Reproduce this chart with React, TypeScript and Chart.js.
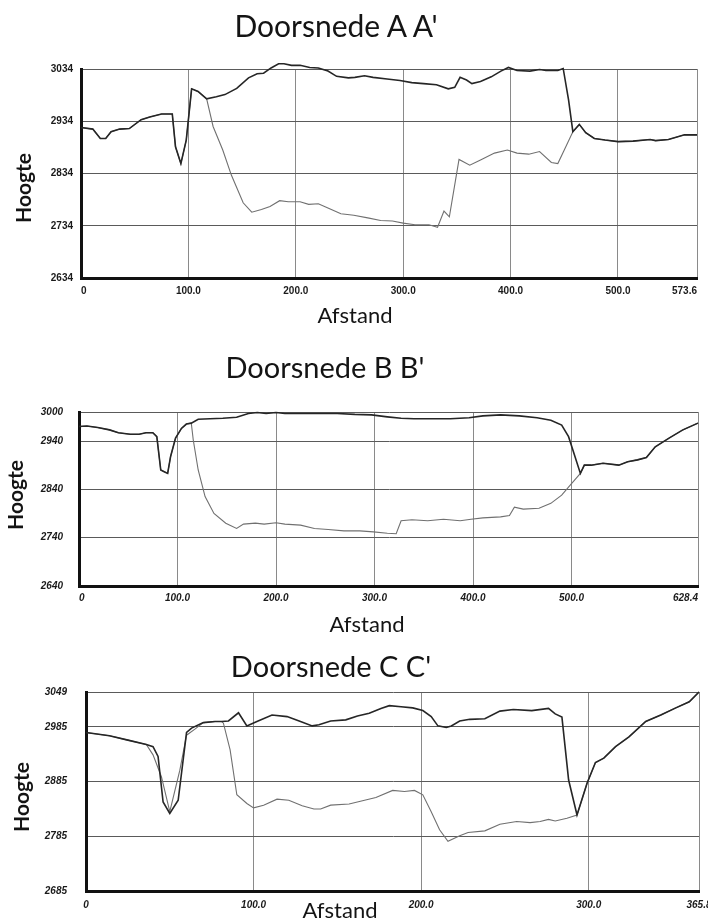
import React, { useEffect, useRef } from "react";
import { Chart, registerables } from "chart.js";

Chart.register(...registerables);

// ---------- Doorsnede A A' ----------
const aTitle = "Doorsnede A A'";
const aXTicks = [0, 100, 200, 300, 400, 500, 573.6];
const aYTicks = [2634, 2734, 2834, 2934, 3034];
const aLeftX = [0, 11, 18, 23, 28, 36, 45, 56, 64, 75, 85, 88, 93, 98, 103, 109, 117];
const aLeftY = [2922, 2919, 2901, 2901, 2914, 2919, 2920, 2937, 2942, 2948, 2948, 2885, 2853, 2898, 2996, 2991, 2977];
const aTopX = [126, 134, 145, 156, 164, 170, 177, 184, 189, 196, 204, 213, 221, 230, 238, 249, 255, 264, 272, 285, 297, 308, 319, 331, 342, 348, 353, 359, 364, 372, 382, 391, 398, 406, 418, 427, 433, 444, 449, 454];
const aTopY = [2981, 2985, 2997, 3017, 3025, 3026, 3036, 3044, 3044, 3041, 3041, 3037, 3036, 3030, 3020, 3017, 3018, 3021, 3018, 3015, 3012, 3008, 3006, 3004, 2996, 2999, 3018, 3013, 3006, 3010, 3019, 3030, 3037, 3031, 3030, 3033, 3031, 3031, 3035, 2975];
const aBottomX = [123, 132, 140, 151, 159, 168, 176, 185, 193, 204, 212, 221, 231, 242, 254, 267, 279, 290, 300, 311, 324, 332, 338, 343, 352, 362, 372, 385, 397, 406, 417, 427, 438, 444, 450];
const aBottomY = [2924, 2879, 2831, 2778, 2760, 2765, 2771, 2782, 2780, 2780, 2775, 2776, 2767, 2757, 2754, 2749, 2744, 2743, 2739, 2736, 2736, 2731, 2762, 2751, 2861, 2850, 2860, 2873, 2879, 2873, 2871, 2876, 2855, 2853, 2879];
const aRightX = [458, 464, 470, 478, 488, 500, 514, 530, 535, 547, 562, 573.6];
const aRightY = [2914, 2928, 2912, 2901, 2898, 2895, 2896, 2899, 2897, 2899, 2908, 2908];

// ---------- Doorsnede B B' ----------
const bTitle = "Doorsnede B B'";
const bXTicks = [0, 100, 200, 300, 400, 500, 628.4];
const bYTicks = [2640, 2740, 2840, 2940, 3000];
const bLeftX = [0, 8, 19, 31, 40, 52, 61, 68, 75, 79, 83, 86, 90, 93, 98, 104, 109, 114];
const bLeftY = [2970, 2971, 2968, 2963, 2957, 2954, 2954, 2957, 2957, 2949, 2880, 2877, 2873, 2908, 2946, 2966, 2975, 2977];
const bTopX = [121, 133, 146, 160, 172, 181, 190, 200, 209, 225, 243, 262, 280, 297, 313, 327, 340, 359, 377, 396, 410, 428, 447, 465, 479, 490, 497, 503, 509];
const bTopY = [2985, 2986, 2987, 2989, 2997, 2999, 2997, 2999, 2997, 2997, 2997, 2997, 2995, 2994, 2990, 2987, 2986, 2986, 2986, 2988, 2992, 2994, 2992, 2988, 2983, 2973, 2949, 2911, 2873];
const bBottomX = [116, 121, 128, 137, 149, 160, 167, 179, 188, 200, 209, 225, 239, 253, 269, 285, 299, 313, 322, 327, 338, 354, 370, 387, 398, 410, 428, 437, 442, 451, 467, 479, 490, 500, 509];
const bBottomY = [2942, 2880, 2825, 2790, 2770, 2759, 2768, 2770, 2768, 2771, 2768, 2766, 2759, 2757, 2754, 2754, 2752, 2749, 2748, 2775, 2777, 2775, 2778, 2775, 2778, 2781, 2783, 2786, 2803, 2799, 2801, 2811, 2828, 2852, 2873];
const bRightX = [513, 520, 532, 548, 557, 567, 576, 585, 599, 613, 628.4];
const bRightY = [2890, 2890, 2894, 2890, 2897, 2901, 2906, 2928, 2946, 2963, 2977];

// ---------- Doorsnede C C' ----------
const cTitle = "Doorsnede C C'";
const cXTicks = [0, 100, 200, 300, 365.8];
const cYTicks = [2685, 2785, 2885, 2985, 3049];
const cLeftX = [0, 14, 25, 36];
const cLeftY = [2975, 2969, 2961, 2953];
const cDipDarkX = [40, 43, 46, 50, 55, 60, 63];
const cDipDarkY = [2949, 2931, 2848, 2827, 2851, 2975, 2983];
const cDipGrayX = [40, 45, 50, 56, 60, 65];
const cDipGrayY = [2934, 2894, 2830, 2906, 2970, 2981];
const cJoinX = [70, 77, 81];
const cJoinY = [2993, 2995, 2995];
const cTopX = [85, 91, 96, 102, 111, 120, 128, 135, 139, 146, 155, 162, 169, 176, 181, 188, 195, 201, 206, 210, 215, 218, 223, 229, 238, 247, 255, 266, 276, 280, 284, 288];
const cTopY = [2996, 3011, 2987, 2995, 3007, 3004, 2995, 2987, 2989, 2996, 2998, 3005, 3010, 3019, 3024, 3022, 3020, 3015, 3004, 2987, 2984, 2987, 2996, 2999, 3000, 3014, 3017, 3015, 3019, 3009, 3003, 2888];
const cBottomX = [82, 86, 90, 96, 100, 106, 114, 121, 129, 136, 140, 146, 157, 165, 173, 183, 190, 196, 201, 206, 211, 216, 223, 228, 238, 247, 257, 265, 271, 276, 280, 287];
const cBottomY = [2992, 2943, 2861, 2845, 2837, 2842, 2853, 2851, 2841, 2835, 2835, 2842, 2844, 2850, 2856, 2869, 2867, 2869, 2861, 2830, 2797, 2776, 2786, 2792, 2795, 2807, 2812, 2810, 2812, 2816, 2813, 2818];
const cRightX = [293, 299, 304, 309, 316, 324, 334, 343, 352, 360, 365.8];
const cRightY = [2824, 2882, 2920, 2928, 2949, 2967, 2995, 3007, 3020, 3031, 3049];

const xAxisTitle = "Afstand";
const yAxisTitle = "Hoogte";

type Pt = { x: number; y: number };
const zip = (xs: number[], ys: number[]): Pt[] => xs.map((x, i) => ({ x, y: ys[i] }));

const W = 708;

interface ProfileProps {
  top: number;
  height: number;
  dark: Pt[];
  gray: Pt[];
  xTicks: number[];
  yTicks: number[];
  plotLeft: number;
  plotRight: number;
  plotTop: number;
  plotBottom: number;
  yPad: number;
  xPad: number;
  italic: boolean;
  inner: boolean;
}

function Profile(p: ProfileProps) {
  const ref = useRef<HTMLCanvasElement | null>(null);
  useEffect(() => {
    if (!ref.current) return;
    const tickFont: any = {
      family: "'Liberation Sans', Arial, sans-serif",
      size: 10,
      weight: "bold",
      style: p.italic ? "italic" : "normal",
    };
    const chart = new Chart(ref.current, {
      type: "line",
      data: {
        datasets: [
          { data: p.dark, borderColor: "#262626", borderWidth: 1.6, pointRadius: 0, fill: false, tension: 0, clip: false } as any,
          { data: p.gray, borderColor: "#707070", borderWidth: 1.1, pointRadius: 0, fill: false, tension: 0, clip: false } as any,
        ],
      },
      options: {
        responsive: false,
        animation: false,
        events: [],
        layout: { padding: { top: p.plotTop, right: W - p.plotRight, bottom: 0, left: 0 } },
        plugins: { legend: { display: false }, tooltip: { enabled: false }, title: { display: false } },
        scales: {
          x: {
            type: "linear",
            min: p.xTicks[0],
            max: p.xTicks[p.xTicks.length - 1],
            afterBuildTicks: (s: any) => {
              s.ticks = p.xTicks.map((v) => ({ value: v }));
            },
            afterFit: (s: any) => {
              s.height = p.height - p.plotBottom;
              s.paddingLeft = 0;
              s.paddingRight = 0;
            },
            ticks: {
              autoSkip: false,
              maxRotation: 0,
              minRotation: 0,
              padding: p.xPad,
              color: "#1a1a1a",
              font: tickFont,
              align: p.inner ? "inner" : "center",
              callback: (v: any) => (Number(v) === 0 ? "0" : Number(v).toFixed(1)),
            },
            grid: { color: "#8a8a8a", lineWidth: 1, drawTicks: false },
            border: { display: true, color: "#111", width: 3 },
          } as any,
          y: {
            type: "linear",
            min: p.yTicks[0],
            max: p.yTicks[p.yTicks.length - 1],
            afterBuildTicks: (s: any) => {
              s.ticks = p.yTicks.map((v) => ({ value: v }));
            },
            afterFit: (s: any) => {
              s.width = p.plotLeft;
              s.paddingTop = 0;
              s.paddingBottom = 0;
            },
            ticks: {
              autoSkip: false,
              padding: p.yPad,
              color: "#1a1a1a",
              font: tickFont,
              callback: (v: any) => String(v),
            },
            grid: { color: "#5a5a5a", lineWidth: 1, drawTicks: false },
            border: { display: true, color: "#111", width: 3 },
          } as any,
        },
      },
    });
    return () => chart.destroy();
  }, []);
  return (
    <div style={{ position: "absolute", left: 0, top: p.top, width: W, height: p.height }}>
      <canvas ref={ref} width={W} height={p.height} style={{ display: "block" }} />
    </div>
  );
}

const textBase: React.CSSProperties = {
  position: "absolute",
  fontFamily: "Lato, 'Open Sans', sans-serif",
  color: "#141414",
  whiteSpace: "nowrap",
};

function Title({ cx, top, size, text }: { cx: number; top: number; size: number; text: string }) {
  return (
    <div style={{ ...textBase, left: cx, top, fontSize: size, lineHeight: `${size}px`, transform: "translateX(-50%)" }}>{text}</div>
  );
}

function XTitle({ cx, top, text }: { cx: number; top: number; text: string }) {
  return (
    <div style={{ ...textBase, left: cx, top, fontSize: 22, lineHeight: "22px", transform: "translateX(-50%)" }}>{text}</div>
  );
}

function YTitle({ cx, cy, text }: { cx: number; cy: number; text: string }) {
  return (
    <div
      style={{
        ...textBase,
        left: cx,
        top: cy,
        fontSize: 21,
        fontWeight: 700,
        lineHeight: "21px",
        transform: "translate(-50%, -50%) rotate(-90deg)",
      }}
    >
      {text}
    </div>
  );
}

export default function App() {
  const aDark = [...zip(aLeftX, aLeftY), ...zip(aTopX, aTopY), ...zip(aRightX, aRightY)];
  const aGray = [...zip(aLeftX, aLeftY), ...zip(aBottomX, aBottomY), ...zip(aRightX, aRightY)];
  const bDark = [...zip(bLeftX, bLeftY), ...zip(bTopX, bTopY), ...zip(bRightX, bRightY)];
  const bGray = [...zip(bLeftX, bLeftY), ...zip(bBottomX, bBottomY), ...zip(bRightX, bRightY)];
  const cDark = [...zip(cLeftX, cLeftY), ...zip(cDipDarkX, cDipDarkY), ...zip(cJoinX, cJoinY), ...zip(cTopX, cTopY), ...zip(cRightX, cRightY)];
  const cGray = [...zip(cLeftX, cLeftY), ...zip(cDipGrayX, cDipGrayY), ...zip(cJoinX, cJoinY), ...zip(cBottomX, cBottomY), ...zip(cRightX, cRightY)];

  return (
    <div style={{ position: "fixed", left: 0, top: 0, width: W, height: 921, background: "#fff", overflow: "hidden" }}>
      <Profile top={0} height={330} dark={aDark} gray={aGray} xTicks={aXTicks} yTicks={aYTicks}
        plotLeft={81} plotRight={697} plotTop={69} plotBottom={278} yPad={8} xPad={7} italic={false} inner={true} />
      <Profile top={330} height={310} dark={bDark} gray={bGray} xTicks={bXTicks} yTicks={bYTicks}
        plotLeft={79} plotRight={698} plotTop={82} plotBottom={256} yPad={16} xPad={6} italic={true} inner={true} />
      <Profile top={640} height={281} dark={cDark} gray={cGray} xTicks={cXTicks} yTicks={cYTicks}
        plotLeft={86} plotRight={699} plotTop={52} plotBottom={251} yPad={19} xPad={8} italic={true} inner={false} />

      <Title cx={336} top={10} size={30} text={aTitle} />
      <Title cx={325} top={352} size={29} text={bTitle} />
      <Title cx={331} top={651} size={29} text={cTitle} />

      <XTitle cx={355} top={304} text={xAxisTitle} />
      <XTitle cx={367} top={613} text={xAxisTitle} />
      <XTitle cx={340} top={899} text={xAxisTitle} />

      <YTitle cx={22} cy={188} text={yAxisTitle} />
      <YTitle cx={14} cy={495} text={yAxisTitle} />
      <YTitle cx={20} cy={797} text={yAxisTitle} />
    </div>
  );
}
